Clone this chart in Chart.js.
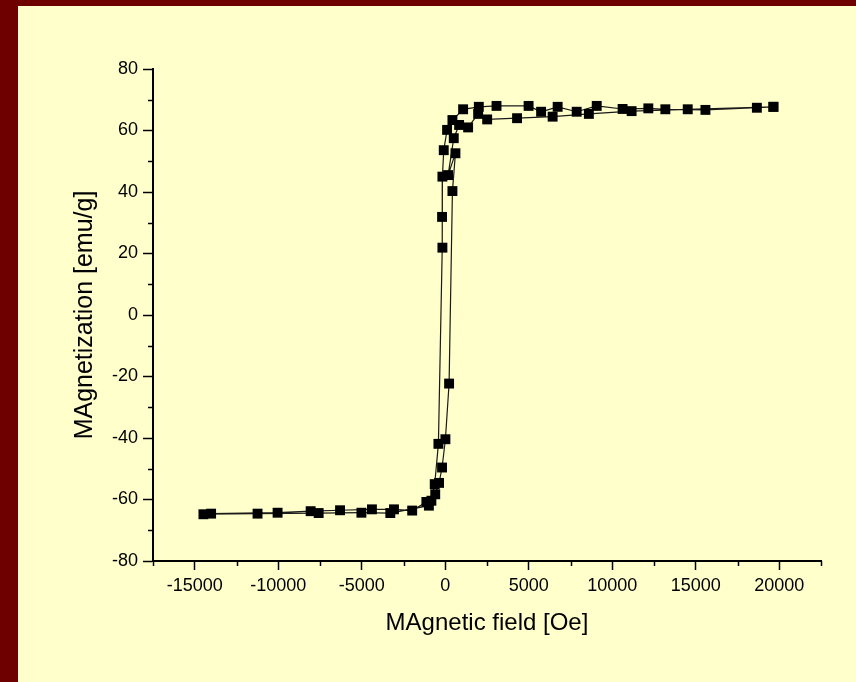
<!DOCTYPE html>
<html>
<head>
<meta charset="utf-8">
<script src="https://cdn.jsdelivr.net/npm/chart.js@4"></script>
<style>
    html, body { margin: 0; padding: 0; background: #6e0000; }
    #wrap { position: absolute; left: 18px; top: 6px; width: 838px; height: 676px; background: #ffffcc; }
</style>
</head>
<body>
<div id="wrap"><canvas id="loopChart" width="838" height="676"></canvas></div>
<script>
// Hysteresis loop data (field in Oe, magnetization in emu/g)
// branch going down from the highest field
const fieldDown = [19650, 18660, 15580, 13180, 12160, 10620, 9070, 7870, 6730, 5740, 4990, 3070, 2010, 1070, 430, 110, -90, -170, -190, -170, -410, -630, -830, -1130, -1980, -3070, -4390, -6300, -8060, -10040, -14020, -14480];
const magDown = [67.7, 67.4, 66.7, 66.9, 67.2, 67.0, 68.0, 66.1, 67.7, 66.1, 68.0, 68.0, 67.7, 66.9, 63.4, 60.2, 53.6, 45.0, 31.9, 21.9, -41.9, -55.0, -60.4, -60.8, -63.6, -63.2, -63.2, -63.5, -63.8, -64.3, -64.6, -64.8];
// branch going back up
const fieldUp = [-11240, -7580, -5020, -3290, -980, -600, -370, -190, 10, 230, 430, 610, 170, 510, 830, 1370, 1970, 2510, 4300, 6430, 8600, 11160, 14520, 19650];
const magUp = [-64.6, -64.4, -64.3, -64.4, -62.0, -58.3, -54.6, -49.6, -40.4, -22.3, 40.3, 52.6, 45.5, 57.5, 61.8, 61.0, 65.4, 63.6, 64.0, 64.5, 65.4, 66.3, 66.9, 67.7];

const xTicks = { min: -17500, max: 22500, major: 5000, minor: 2500 };
const yTicks = { min: -80, max: 80, major: 20, minor: 10 };

const loopPoints = [];
fieldDown.forEach((h, i) => loopPoints.push({ x: h, y: magDown[i] }));
fieldUp.forEach((h, i) => loopPoints.push({ x: h, y: magUp[i] }));

const fontName = "'Liberation Sans', Arial, sans-serif";

// short minor ticks between the labelled ones
const minorTicks = {
    id: 'minorTicks',
    afterDraw(chart) {
        const ctx = chart.ctx;
        const xs = chart.scales.x;
        const ys = chart.scales.y;
        ctx.save();
        ctx.strokeStyle = '#000';
        ctx.lineWidth = 1.5;
        ctx.beginPath();
        for (let v = xTicks.min; v <= xTicks.max; v += xTicks.minor) {
            if (v % xTicks.major === 0) continue;
            const px = Math.round(xs.getPixelForValue(v)) + 0.5;
            ctx.moveTo(px, xs.top);
            ctx.lineTo(px, xs.top + 5);
        }
        for (let v = yTicks.min; v <= yTicks.max; v += yTicks.minor) {
            if (v % yTicks.major === 0) continue;
            const py = Math.round(ys.getPixelForValue(v)) + 0.5;
            ctx.moveTo(ys.right, py);
            ctx.lineTo(ys.right - 5, py);
        }
        ctx.stroke();
        ctx.restore();
    }
};

const isMajorX = (v) => v % xTicks.major === 0;

const ctx = document.getElementById('loopChart').getContext('2d');
const loopChart = new Chart(ctx, {
    type: 'line',
    data: {
        datasets: [{
            data: loopPoints,
            borderColor: '#1a1a1a',
            borderWidth: 1.2,
            backgroundColor: '#000',
            pointStyle: 'rect',
            pointRadius: 7,
            pointBorderWidth: 0,
            pointBorderColor: '#000',
            pointBackgroundColor: '#000',
            fill: false,
            tension: 0
        }]
    },
    options: {
        responsive: false,
        animation: false,
        layout: { padding: { top: 63, right: 35, left: 0, bottom: 0 } },
        plugins: {
            legend: { display: false },
            tooltip: { enabled: false }
        },
        scales: {
            x: {
                type: 'linear',
                min: xTicks.min,
                max: xTicks.max,
                afterFit(scale) { scale.height = 121; },
                border: { display: true, color: '#000', width: 2 },
                grid: {
                    drawOnChartArea: false,
                    tickLength: 9,
                    tickWidth: 1.5,
                    tickColor: (c) => (c.tick && isMajorX(c.tick.value)) ? '#000' : 'rgba(0,0,0,0)'
                },
                ticks: {
                    stepSize: xTicks.minor,
                    autoSkip: false,
                    maxRotation: 0,
                    padding: 5,
                    color: '#000',
                    font: { family: fontName, size: 18 },
                    callback: (v) => isMajorX(v) ? String(v) : ''
                },
                title: {
                    display: true,
                    text: 'MAgnetic field [Oe]',
                    color: '#000',
                    font: { family: fontName, size: 24 },
                    padding: { top: 0, bottom: 44 }
                }
            },
            y: {
                type: 'linear',
                min: yTicks.min,
                max: yTicks.max,
                afterFit(scale) { scale.width = 135; },
                border: { display: true, color: '#000', width: 2 },
                grid: {
                    drawOnChartArea: false,
                    tickLength: 10,
                    tickWidth: 1.5,
                    tickColor: '#000'
                },
                ticks: {
                    stepSize: yTicks.major,
                    padding: 5,
                    color: '#000',
                    font: { family: fontName, size: 18 }
                },
                title: {
                    display: true,
                    text: 'MAgnetization [emu/g]',
                    color: '#000',
                    font: { family: fontName, size: 25 },
                    padding: { top: 52, bottom: 0 }
                }
            }
        }
    },
    plugins: [minorTicks]
});
</script>
</body>
</html>
